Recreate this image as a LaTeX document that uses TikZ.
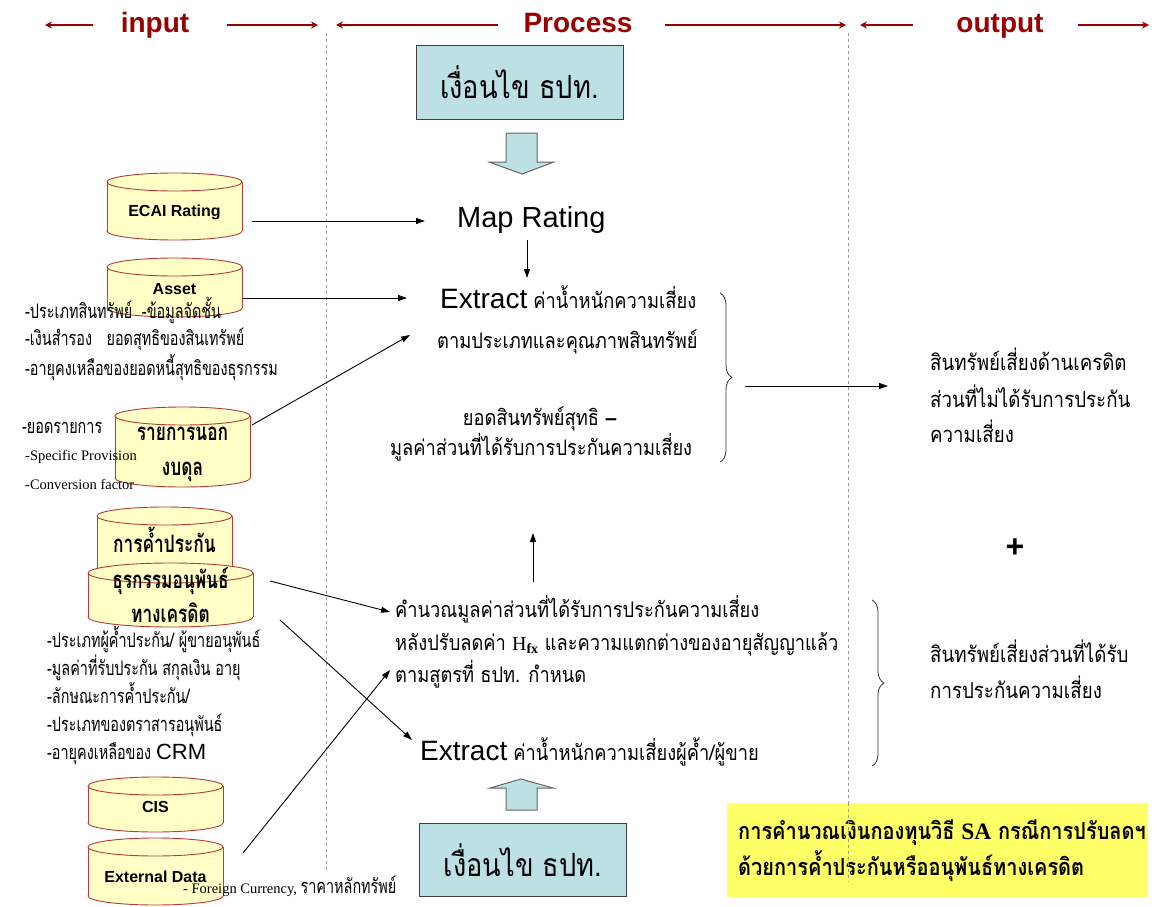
\documentclass[tikz,border=0pt]{standalone}
\usepackage{fontspec}
\setmainfont{Liberation Serif}
\setsansfont{Liberation Sans}
\newfontfamily\thfont[Script=Thai,FakeStretch=0.72]{Loma}
\newfontfamily\thwide[Script=Thai,FakeStretch=0.85]{Loma}
\usetikzlibrary{arrows.meta,decorations.pathreplacing}
\newcommand\fs[1]{\fontsize{#1}{#1}\selectfont}
\definecolor{hdr}{HTML}{990000}
\definecolor{boxblue}{HTML}{BCE0E3}
\definecolor{cylfillc}{HTML}{FFFFC6}
\definecolor{cylline}{HTML}{B83A3A}
\definecolor{yel}{HTML}{FFFF66}
\definecolor{dashg}{HTML}{999999}
\newcommand\dbcyl[6]{%
  \pgfmathsetmacro\cx{(#2+#4)/2}\pgfmathsetmacro\rx{(#4-#2)/2}%
  \pgfmathsetmacro\yt{#3+#6}\pgfmathsetmacro\yb{#5-#6}\pgfmathsetmacro\cm{(#3+#5)/2}%
  \filldraw[cyl] (\cx,\yb) ellipse [x radius=\rx, y radius=#6];
  \fill[cylfillc] (#2,\yt) rectangle (#4,\yb);
  \draw[cyl] (#2,\yt) -- (#2,\yb) (#4,\yt) -- (#4,\yb);
  \filldraw[cyl] (\cx,\yt) ellipse [x radius=\rx, y radius=#6];
  \node[inner sep=0, minimum width={(#4-#2)*1pt}, minimum height={(#5-#3)*1pt}] (#1) at (\cx,\cm) {};
}
\tikzset{
  cyl/.style={draw=cylline, fill=cylfillc, line width=0.9pt},
  hdrtext/.style={anchor=base, text=hdr, font=\sffamily\bfseries\fs{28}},
  hdrarrow/.style={draw=hdr, line width=1.6pt, -{Stealth[length=7pt,width=7pt]}},
  conn/.style={draw=black, line width=0.9pt, -{Triangle[length=9pt,width=6pt]}},
  lt/.style={anchor=base west, inner sep=0, font=\thfont\fs{20}},
  ct/.style={anchor=base west, inner sep=0, font=\thwide\fs{21.5}},
  rt/.style={anchor=base west, inner sep=0, font=\thwide\fs{22}},
  ser/.style={anchor=base west, inner sep=0, font=\rmfamily\fs{14.5}},
  cb/.style={anchor=base, inner sep=0, font=\thfont\bfseries\fs{24}},
  lb/.style={anchor=center, inner sep=0, font=\sffamily\bfseries\fs{16}},
  condbox/.style={draw=black!75, line width=1pt, fill=boxblue, minimum width=207pt, minimum height=73pt, inner sep=0, font=\thwide\fs{32}},
  blockarrow/.style={draw=black!60, line width=1pt, fill=boxblue},
  bracest/.style={draw=black!80, line width=0.8pt, decorate, decoration={brace, amplitude=12pt}},
}
\begin{document}
\begin{tikzpicture}[x=1pt,y=-1pt]
\useasboundingbox (0,0) rectangle (1160,907);
\fill[white] (0,0) rectangle (1160,907);
% header
\node[hdrtext] (hin) at (155,33) {input};
\node[hdrtext] (hproc) at (578,33) {Process};
\node[hdrtext] (hout) at (1000,33) {output};
\coordinate (a1) at (45,25); \coordinate (a2) at (93,25);
\coordinate (a3) at (227,25); \coordinate (a4) at (318,25);
\coordinate (a5) at (336,25); \coordinate (a6) at (498,25);
\coordinate (a7) at (665,25); \coordinate (a8) at (846,25);
\coordinate (a9) at (860,25); \coordinate (a10) at (913,25);
\coordinate (a11) at (1078,25); \coordinate (a12) at (1149,25);
\draw[hdrarrow] (a2) -- (a1);
\draw[hdrarrow] (a3) -- (a4);
\draw[hdrarrow] (a6) -- (a5);
\draw[hdrarrow] (a7) -- (a8);
\draw[hdrarrow] (a10) -- (a9);
\draw[hdrarrow] (a11) -- (a12);
% dashed separators
\coordinate (d1t) at (326,33); \coordinate (d1b) at (326,872);
\coordinate (d2t) at (848,33); \coordinate (d2b) at (848,882);
\draw[dashg, dashed, line width=0.6pt] (d1t) -- (d1b);
\draw[dashg, dashed, line width=0.6pt] (d2t) -- (d2b);
% condition boxes
\node[condbox] (cond1) at (519.5,82.5) {\raisebox{-2pt}{เงื่อนไข ธปท.}};
\node[condbox] (cond2) at (523,860) {\raisebox{-2pt}{เงื่อนไข ธปท.}};
\draw[blockarrow] (506,133) -- (537,133) -- (537,162) -- (554,162) -- (522,174) -- (489,162) -- (506,162) -- cycle;
\draw[blockarrow] (506,810) -- (537,810) -- (537,788) -- (553,788) -- (521,779) -- (490,788) -- (506,788) -- cycle;
% cylinders
\dbcyl{ecai}{107}{173}{242}{240}{9}
\dbcyl{asset}{107}{258}{242}{317}{9}
\dbcyl{offb}{115}{407}{250}{487}{9}
\dbcyl{guar}{97}{507}{232}{585}{9}
\dbcyl{cderiv}{88}{563}{253}{627}{10}
\dbcyl{cis}{88}{777}{223}{832}{9}
\dbcyl{extd}{88}{838}{223}{905}{9}
\node[lb] (tecai) at (174.5,212) {ECAI Rating};
\node[lb] (tasset) at (174.5,289) {Asset};
\node[cb] (toff1) at (182.5,440) {รายการนอก};
\node[cb] (toff2) at (182.5,475) {งบดุล};
\node[cb] (tguar) at (164.5,552) {การค้ำประกัน};
\node[cb] (tder1) at (170.5,588) {ธุรกรรมอนุพันธ์};
\node[cb] (tder2) at (170.5,622) {ทางเครดิต};
\node[lb] (tcis) at (155.5,807) {CIS};
\node[lb] (text) at (155.5,877) {External Data};
% left notes
\node[lt] (n1) at (25,318) {-ประเภทสินทรัพย์~~-ข้อมูลจัดชั้น};
\node[lt] (n2) at (25,345) {-เงินสำรอง~~~ยอดสุทธิของสินเทรัพย์};
\node[lt] (n3) at (25,375) {-อายุคงเหลือของยอดหนี้สุทธิของธุรกรรม};
\node[lt] (n4) at (22,433) {-ยอดรายการ};
\node[ser] (n5) at (25,460) {-Specific Provision};
\node[ser] (n6) at (25,489) {-Conversion factor};
\node[lt] (n7) at (47,647) {-ประเภทผู้ค้ำประกัน/ ผู้ขายอนุพันธ์};
\node[lt] (n8) at (47,675) {-มูลค่าที่รับประกัน สกุลเงิน อายุ};
\node[lt] (n9) at (47,703) {-ลักษณะการค้ำประกัน/};
\node[lt] (n10) at (47,731) {-ประเภทของตราสารอนุพันธ์};
\node[lt] (n11) at (47,759) {-อายุคงเหลือของ {\sffamily\fs{22}CRM}};
\node[ser] (n12) at (183,893) {- Foreign Currency, {\thfont\fs{20}ราคาหลักทรัพย์}};
% center
\node[anchor=base west, inner sep=0, font=\sffamily\fs{29}] (map) at (457,227) {Map Rating};
\node[ct] (ex1) at (440,308) {{\sffamily\fs{28}Extract} ค่าน้ำหนักความเสี่ยง};
\node[ct] (ex1b) at (437,348) {ตามประเภทและคุณภาพสินทรัพย์};
\node[anchor=base, inner sep=0, font=\thwide\fs{21.5}] (net1) at (540,425) {ยอดสินทรัพย์สุทธิ {\sffamily\bfseries –}};
\node[ct] (net2) at (390,455) {มูลค่าส่วนที่ได้รับการประกันความเสี่ยง};
\node[ct] (calc1) at (395,617) {คำนวณมูลค่าส่วนที่ได้รับการประกันความเสี่ยง};
\node[ct] (calc2) at (395,650) {หลังปรับลดค่า {\rmfamily\fs{20}H\textsubscript{\bfseries fx}} และความแตกต่างของอายุสัญญาแล้ว};
\node[ct] (calc3) at (395,682) {ตามสูตรที่ ธปท. กำหนด};
\node[ct] (ex2) at (420,760) {{\sffamily\fs{28}Extract} ค่าน้ำหนักความเสี่ยงผู้ค้ำ/ผู้ขาย};
% right
\node[rt] (r1) at (930,370) {สินทรัพย์เสี่ยงด้านเครดิต};
\node[rt] (r2) at (930,407) {ส่วนที่ไม่ได้รับการประกัน};
\node[rt] (r3) at (930,442) {ความเสี่ยง};
\node[anchor=center, inner sep=0, font=\sffamily\bfseries\fs{32}] (plus) at (1015,548) {+};
\node[rt] (r4) at (930,662) {สินทรัพย์เสี่ยงส่วนที่ได้รับ};
\node[rt] (r5) at (930,698) {การประกันความเสี่ยง};
% yellow note
\node[fill=yel, minimum width=421pt, minimum height=94pt, inner sep=0] (note) at (937.5,850) {};
\node[anchor=base west, inner sep=0, font=\thwide\bfseries\fs{23.5}] (note1) at (738,839) {การคำนวณเงินกองทุนวิธี {\rmfamily\bfseries SA} กรณีการปรับลดฯ};
\node[anchor=base west, inner sep=0, font=\thwide\bfseries\fs{23.5}] (note2) at (738,875) {ด้วยการค้ำประกันหรืออนุพันธ์ทางเครดิต};
\draw[dashg, dashed, line width=0.6pt] (848,803) -- (848,882);
% braces
\draw[bracest] (720,293) -- (720,462) coordinate[pos=0.5] (b1mid);
\draw[bracest] (872,600) -- (872,766);
% connectors
\coordinate (c1s) at (252,221); \coordinate (c1e) at (425,221);
\coordinate (c2s) at (243,298); \coordinate (c2e) at (407,298);
\coordinate (c3s) at (252,425); \coordinate (c3e) at (410,335);
\coordinate (c4s) at (270,581); \coordinate (c4e) at (390,612);
\coordinate (c5s) at (280,620); \coordinate (c5e) at (412,740);
\coordinate (c6s) at (243,853); \coordinate (c6e) at (390,670);
\coordinate (c7s) at (745,386); \coordinate (c7e) at (888,386);
\coordinate (m1s) at (527,240); \coordinate (m1e) at (527,278);
\coordinate (m2s) at (533,582); \coordinate (m2e) at (533,533);
\draw[conn] (c1s) -- (c1e);
\draw[conn] (c2s) -- (c2e);
\draw[conn] (c3s) -- (c3e);
\draw[conn] (c4s) -- (c4e);
\draw[conn] (c5s) -- (c5e);
\draw[conn] (c6s) -- (c6e);
\draw[conn] (c7s) -- (c7e);
\draw[conn] (m1s) -- (m1e);
\draw[conn] (m2s) -- (m2e);
\end{tikzpicture}
\end{document}
